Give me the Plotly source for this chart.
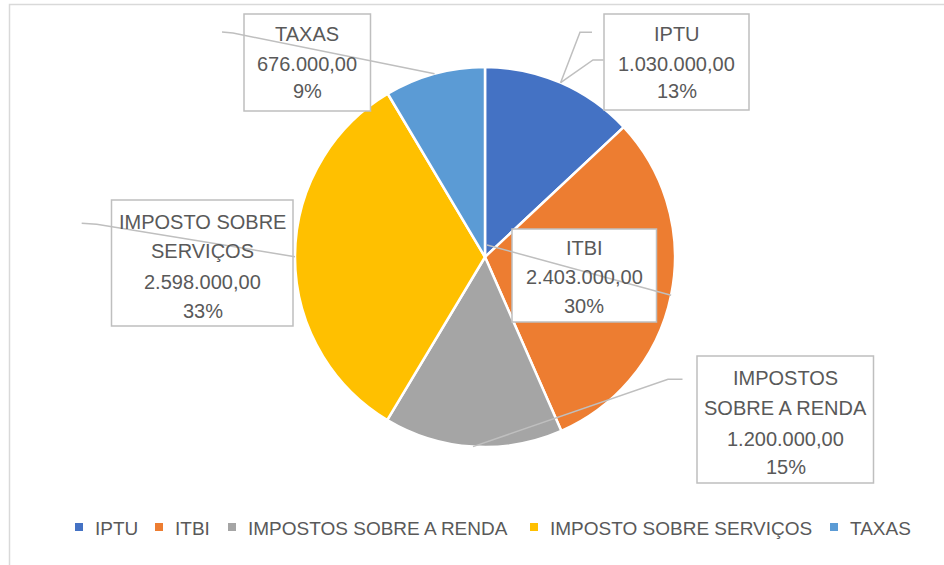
import math
import plotly.graph_objects as go

# ---- data ----
categories = ["IPTU", "ITBI", "IMPOSTOS SOBRE A RENDA", "IMPOSTO SOBRE SERVIÇOS", "TAXAS"]
values = [1030000, 2403000, 1200000, 2598000, 676000]
colors = ["#4472C4", "#ED7D31", "#A5A5A5", "#FFC000", "#5B9BD5"]
label_wrap = [["IPTU"], ["ITBI"], ["IMPOSTOS", "SOBRE A RENDA"],
              ["IMPOSTO SOBRE", "SERVIÇOS"], ["TAXAS"]]

W, H = 944, 565
FONT = "Liberation Sans, Arial, sans-serif"
TXT = "#595959"
LINE = "#BFBFBF"


def px(x):
    return x / W


def py(y):
    return 1 - y / H


def br(v):
    s = f"{v:,.2f}"
    return s.replace(",", "X").replace(".", ",").replace("X", ".")


total = sum(values)

# pie geometry (pixels)
CX, CY, R = 485, 257, 190

fig = go.Figure()
fig.add_trace(go.Pie(
    labels=categories, values=values, sort=False, direction="clockwise",
    rotation=0, textinfo="none", hoverinfo="label+value+percent",
    marker=dict(colors=colors, line=dict(color="white", width=2.5)),
    domain=dict(x=[px(CX - R), px(CX + R)], y=[py(CY + R), py(CY - R)]),
    showlegend=False,
))

# mid-angle edge points of the slices (derived from data)
edge = []
acc = 0
for v in values:
    mid = (acc + v / 2) / total * 2 * math.pi
    acc += v
    edge.append((CX + R * math.sin(mid), CY - R * math.cos(mid)))

shapes = []
# chart area border
shapes.append(dict(type="rect", xref="paper", yref="paper",
                   x0=px(9.5), x1=px(W + 20), y0=py(4.5), y1=py(H + 20),
                   line=dict(color="#D9D9D9", width=1.5), fillcolor="rgba(0,0,0,0)", layer="below"))

# label boxes: (x0, y0, x1, y1), text center x, line center ys
boxes = [
    ((604, 14, 749, 110), 676.5, [33, 63, 91]),
    ((512, 229, 656.5, 322), 584, [247.5, 276.5, 305.5]),
    ((697, 356, 873.5, 483), 785.5, [377.5, 407.5, 438, 466]),
    ((111.5, 200, 293, 326), 202.5, [221.5, 250.5, 281, 310]),
    ((244, 14, 370.5, 111), 307, [33, 63, 91]),
]
for (x0, y0, x1, y1), _, _ in boxes:
    shapes.append(dict(type="rect", xref="paper", yref="paper",
                       x0=px(x0), x1=px(x1), y0=py(y1), y1=py(y0),
                       line=dict(color=LINE, width=1.5), fillcolor="white"))

# leader lines (label end points, then slice edge)
leaders = [
    [[(592, 32.3), (580, 32.3)], [(603.5, 60), (593, 60)]],
    [[(487, 245)]],
    [[(682.5, 379.3), (668, 379.3)]],
    [[(81.7, 223.3), (96.7, 224.3)]],
    [[(222, 32), (233, 33)]],
]
for i, groups in enumerate(leaders):
    for pts in groups:
        pts = pts + [edge[i]]
        path = "M " + " L ".join(f"{px(x)},{py(y)}" for x, y in pts)
        shapes.append(dict(type="path", xref="paper", yref="paper", path=path,
                           line=dict(color=LINE, width=1.5)))

annotations = []
for i, ((bx0, by0, bx1, by1), tx, ys) in enumerate(boxes):
    lines = label_wrap[i] + [br(values[i]), f"{round(values[i] / total * 100)}%"]
    for t, y in zip(lines, ys):
        annotations.append(dict(xref="paper", yref="paper", x=px(tx), y=py(y + 0.5),
                                text=t, showarrow=False, xanchor="center", yanchor="middle",
                                font=dict(family=FONT, size=20, color=TXT)))

# custom legend
leg_sq_x = [75, 155, 228, 530, 830]
for i, name in enumerate(categories):
    sx = leg_sq_x[i]
    shapes.append(dict(type="rect", xref="paper", yref="paper",
                       x0=px(sx), x1=px(sx + 8), y0=py(531), y1=py(523),
                       line=dict(width=0), fillcolor=colors[i]))
    annotations.append(dict(xref="paper", yref="paper", x=px(sx + 17.5), y=py(528.5),
                            text=name, showarrow=False, xanchor="left", yanchor="middle",
                            font=dict(family=FONT, size=19, color=TXT)))

fig.update_layout(
    width=W, height=H,
    margin=dict(l=0, r=0, t=0, b=0),
    paper_bgcolor="white", plot_bgcolor="white",
    shapes=shapes, annotations=annotations,
    font=dict(family=FONT),
)

fig.write_html("out.html", config={"displayModeBar": False},
               post_script="document.body.style.margin='0';document.body.style.overflow='hidden';")
